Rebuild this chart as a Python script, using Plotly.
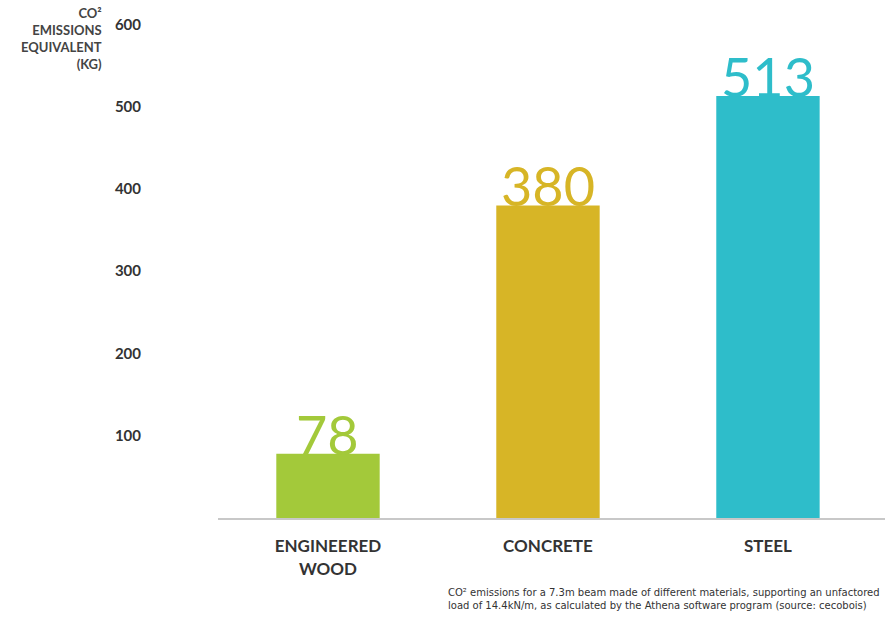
import plotly.graph_objects as go

categories = ["ENGINEERED<br>WOOD", "CONCRETE", "STEEL"]
values = [78, 380, 513]
value_labels = ["78", "380", "513"]
bar_colors = ["#a3c93a", "#d7b526", "#2ebdca"]
y_ticks = [100, 200, 300, 400, 500, 600]
y_title = "CO²<br>EMISSIONS<br>EQUIVALENT<br>(KG)"
footnote = ("CO² emissions for a 7.3m beam made of different materials, supporting an unfactored<br>"
            "load of 14.4kN/m, as calculated by the Athena software program (source: cecobois)")

FONT = "Lato, 'Open Sans', sans-serif"

# plot area in pixels
L, R, T, B, W, H = 218, 0, 24, 99, 885, 617
PW, PH = W - L - R, H - T - B


def px_x(x):
    return (x - L) / PW


def px_y(y):
    return (H - B - y) / PH


fig = go.Figure()
fig.add_trace(go.Bar(
    x=list(range(len(categories))), y=values,
    marker=dict(color=bar_colors, line=dict(width=0)),
    width=0.47, hoverinfo="skip",
))

for i, (v, lab, c) in enumerate(zip(values, value_labels, bar_colors)):
    fig.add_annotation(x=i, y=v, text=lab, showarrow=False, xref="x", yref="y",
                       yanchor="bottom", xanchor="center", yshift=-15,
                       font=dict(family="Lato, sans-serif", size=54, color=c, weight=400))

fig.add_annotation(x=px_x(104), y=px_y(3), xref="paper", yref="paper", text=y_title,
                   showarrow=False, align="right", xanchor="right", yanchor="top",
                   font=dict(size=13, color="#444444", family=FONT, weight=700))

fig.add_annotation(x=px_x(446), y=px_y(585), xref="paper", yref="paper",
                   text=footnote, showarrow=False, align="left", xanchor="left", yanchor="top",
                   font=dict(size=10, color="#333333", family="DejaVu Sans, sans-serif"))

fig.update_layout(
    width=W, height=H,
    margin=dict(l=L, r=R, t=T, b=B),
    paper_bgcolor="white", plot_bgcolor="white",
    showlegend=False,
    font=dict(family=FONT, color="#333333"),
    xaxis=dict(
        range=[-0.5, 2.532], tickmode="array", tickvals=list(range(len(categories))),
        ticktext=categories, showgrid=False, zeroline=False,
        showline=True, linecolor="#c8c8c8", linewidth=2,
        tickfont=dict(size=17, color="#333333", family=FONT, weight=700),
        ticklabelstandoff=12, fixedrange=True,
    ),
    yaxis=dict(
        range=[0, 600.5], tickmode="array", tickvals=y_ticks,
        ticktext=[str(t) for t in y_ticks], showgrid=False, zeroline=False,
        showline=False, tickfont=dict(size=15, color="#333333", family=FONT, weight=700),
        ticklabelstandoff=76, fixedrange=True,
    ),
)

fig.write_html("out.html")
